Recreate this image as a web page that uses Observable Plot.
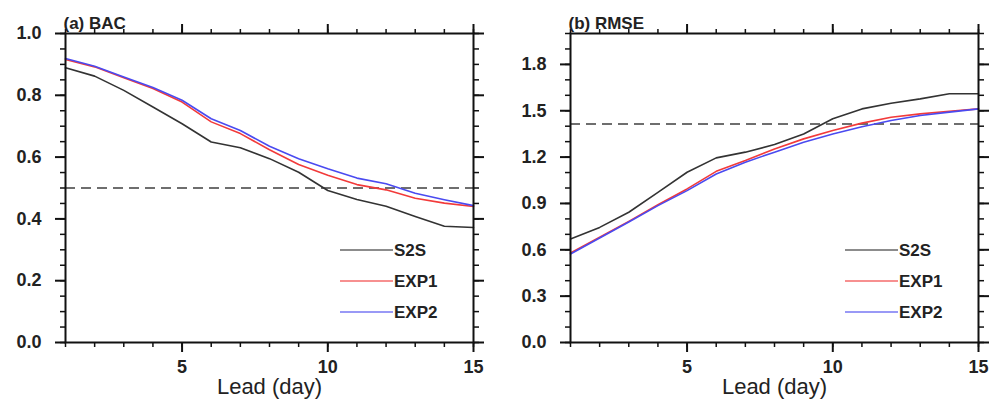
<!DOCTYPE html>
<html>
<head>
<meta charset="utf-8">
<script src="https://cdn.jsdelivr.net/npm/d3@7"></script>
<script src="https://cdn.jsdelivr.net/npm/@observablehq/plot@0.6"></script>
<style>
  html, body { margin: 0; padding: 0; background: #fff; }
  #wrap { display: flex; width: 998px; height: 404px; }
  svg { font-family: "Liberation Sans", Arial, Helvetica, sans-serif; }
  svg g[aria-label$="tick label"] text { font-size: 18px; font-weight: bold; fill: #222; }
  svg text.ttl { font-size: 17px; font-weight: bold; fill: #222; }
  svg text.xlab { font-size: 22px; fill: #222; }
  svg text.leg { font-size: 17px; font-weight: bold; fill: #222; }
</style>
</head>
<body>
<div id="wrap"></div>
<script>
const days = [1, 2, 3, 4, 5, 6, 7, 8, 9, 10, 11, 12, 13, 14, 15];
const seriesNames = ["S2S", "EXP1", "EXP2"];
const seriesColors = ["#333333", "#f23a3a", "#4a4af0"];

const bacS2S  = [0.889, 0.862, 0.816, 0.762, 0.708, 0.649, 0.630, 0.595, 0.551, 0.492, 0.463, 0.441, 0.408, 0.376, 0.372];
const bacEXP1 = [0.916, 0.892, 0.857, 0.822, 0.778, 0.714, 0.676, 0.624, 0.576, 0.541, 0.511, 0.494, 0.467, 0.451, 0.440];
const bacEXP2 = [0.919, 0.894, 0.859, 0.825, 0.784, 0.724, 0.686, 0.635, 0.595, 0.562, 0.532, 0.514, 0.483, 0.462, 0.443];

const rmseS2S  = [0.670, 0.745, 0.843, 0.972, 1.102, 1.195, 1.232, 1.281, 1.350, 1.448, 1.512, 1.549, 1.577, 1.610, 1.610];
const rmseEXP1 = [0.579, 0.681, 0.784, 0.892, 0.994, 1.108, 1.178, 1.253, 1.318, 1.372, 1.420, 1.458, 1.480, 1.497, 1.512];
const rmseEXP2 = [0.573, 0.676, 0.780, 0.886, 0.983, 1.091, 1.167, 1.232, 1.296, 1.350, 1.397, 1.437, 1.469, 1.491, 1.512];

const xMajorTicks = [5, 10, 15];
const bacMajorTicks = [0, 0.2, 0.4, 0.6, 0.8, 1.0];
const bacMinorTicks = d3.range(0, 1.0001, 0.05);
const rmseMajorTicks = [0, 0.3, 0.6, 0.9, 1.2, 1.5, 1.8];
const rmseMinorTicks = d3.range(0, 2.0001, 0.1);

const bacThreshold = 0.5;
const rmseThreshold = 1.414;

function toRows(arrays) {
  return arrays.flatMap((vals, i) => vals.map((v, j) => ({ series: seriesNames[i], day: days[j], value: v })));
}

function panel({ rows, yDomain, yMajor, yMinor, threshold, title, marginLeft, marginRight }) {
  const W = 499, H = 404, mt = 33, mb = 62;
  const svg = Plot.plot({
    width: W, height: H,
    marginLeft, marginRight, marginTop: mt, marginBottom: mb,
    style: { fontFamily: '"Liberation Sans", Arial, sans-serif', background: "white", color: "#111" },
    x: { domain: [1, 15] },
    y: { domain: yDomain },
    color: { domain: seriesNames, range: seriesColors },
    marks: [
      Plot.ruleY([threshold], { stroke: "#6e6e6e", strokeWidth: 2, strokeDasharray: "10,6" }),
      Plot.line(rows, { x: "day", y: "value", z: "series", stroke: "series", strokeWidth: 1.6 }),
      Plot.axisX({ anchor: "bottom", ticks: days, tickSize: 5, text: null, label: null, strokeWidth: 1.5 }),
      Plot.axisX({ anchor: "top", ticks: days, tickSize: 5, text: null, label: null, strokeWidth: 1.5 }),
      Plot.axisX({ anchor: "bottom", ticks: xMajorTicks, tickSize: 10, tickPadding: 8, label: null, strokeWidth: 2 }),
      Plot.axisX({ anchor: "top", ticks: xMajorTicks, tickSize: 10, text: null, label: null, strokeWidth: 2 }),
      Plot.axisY({ anchor: "left", ticks: yMinor, tickSize: 5, text: null, label: null, strokeWidth: 1.5 }),
      Plot.axisY({ anchor: "right", ticks: yMinor, tickSize: 5, text: null, label: null, strokeWidth: 1.5 }),
      Plot.axisY({ anchor: "left", ticks: yMajor, tickSize: 10, tickPadding: 14, tickFormat: d3.format(".1f"), label: null, strokeWidth: 2 }),
      Plot.axisY({ anchor: "right", ticks: yMajor, tickSize: 10, text: null, label: null, strokeWidth: 2 }),
      Plot.frame({ stroke: "#111", strokeWidth: 2 }),
      Plot.text(["Lead (day)"], { frameAnchor: "bottom", dy: 51 }),
      Plot.text([title], { frameAnchor: "top-left", textAnchor: "start", dy: -17, dx: -2 })
    ]
  });

  const s = d3.select(svg);
  s.selectAll("g[aria-label='text'] text").each(function () {
    const t = d3.select(this);
    const txt = t.text();
    if (txt === "Lead (day)") t.attr("class", "xlab");
    else if (txt === title) t.attr("class", "ttl");
  });

  // Legend (layout only, inside the frame, lower right)
  const lx1 = W - marginRight - 133, lx2 = lx1 + 53;
  const ly = [250, 281, 312];
  const g = s.append("g").attr("text-anchor", "start");
  seriesNames.forEach((name, i) => {
    g.append("line").attr("x1", lx1).attr("x2", lx2).attr("y1", ly[i]).attr("y2", ly[i])
      .attr("stroke", seriesColors[i]).attr("stroke-width", 1.5).attr("opacity", 0.75);
    g.append("text").attr("class", "leg").attr("x", lx2 + 1).attr("y", ly[i]).attr("dy", "0.36em")
      .attr("text-anchor", "start").text(name);
  });
  return svg;
}

const wrap = document.getElementById("wrap");
wrap.appendChild(panel({
  rows: toRows([bacS2S, bacEXP1, bacEXP2]),
  yDomain: [0, 1.0], yMajor: bacMajorTicks, yMinor: bacMinorTicks,
  threshold: bacThreshold, title: "(a) BAC", marginLeft: 65, marginRight: 26
}));
wrap.appendChild(panel({
  rows: toRows([rmseS2S, rmseEXP1, rmseEXP2]),
  yDomain: [0, 2.0], yMajor: rmseMajorTicks, yMinor: rmseMinorTicks,
  threshold: rmseThreshold, title: "(b) RMSE", marginLeft: 71, marginRight: 20
}));
</script>
</body>
</html>
